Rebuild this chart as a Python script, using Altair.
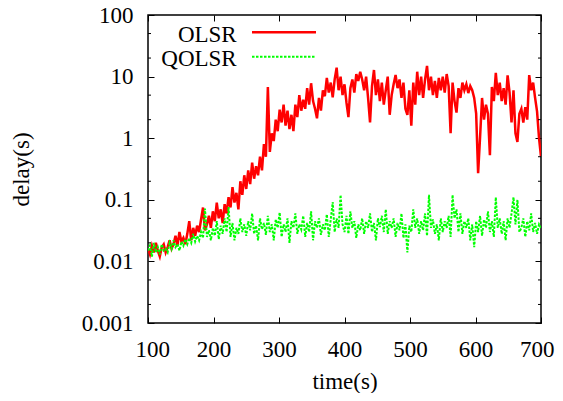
import altair as alt
import pandas as pd

# ---- data ----
time_s = list(range(100, 701, 3))

olsr = [
    0.016, 0.013, 0.018, 0.014, 0.02, 0.015, 0.012, 0.017, 0.019, 0.014,
    0.017, 0.022, 0.016, 0.019, 0.026, 0.018, 0.03, 0.021, 0.024, 0.019,
    0.028, 0.045, 0.022, 0.035, 0.026, 0.038, 0.03, 0.048, 0.075, 0.032,
    0.04, 0.055, 0.035, 0.065, 0.045, 0.09, 0.05, 0.07, 0.042, 0.085,
    0.06, 0.11, 0.075, 0.16, 0.09, 0.13, 0.07, 0.2, 0.12, 0.25,
    0.15, 0.3, 0.18, 0.4, 0.22, 0.35, 0.25, 0.5, 0.3, 0.8,
    0.5, 6.8, 0.6, 1.2, 0.9, 2.0, 1.3, 2.9, 1.8, 3.5,
    1.6, 2.8, 1.4, 2.4, 1.3, 3.5, 2.2, 5.0, 2.8, 4.2,
    3.0, 6.5, 3.5, 7.8, 4.0, 3.0, 2.1, 4.5, 2.8, 6.0,
    4.8, 9.5, 5.5, 8.0, 4.6, 9.0, 14.0, 6.0, 10.0, 5.0,
    7.5, 3.8, 2.2, 6.5, 9.0, 5.5, 11.0, 8.5, 12.0, 9.0,
    6.0, 10.0, 4.5, 1.8, 7.0, 12.8, 5.0, 9.0, 4.0, 8.0,
    3.5, 6.0, 10.0, 2.4, 5.0, 7.5, 10.6, 6.5, 9.0, 4.5,
    8.0, 3.0, 2.4, 6.0, 1.6, 8.0, 3.5, 12.0, 5.0, 10.0,
    4.5, 9.0, 14.9, 6.0, 10.0, 5.0, 8.5, 4.5, 9.5, 6.0,
    10.0, 5.5, 11.0, 7.0, 1.2, 8.0, 4.0, 2.6, 6.5, 4.5,
    8.0, 6.0, 7.5, 5.4, 7.0, 6.0, 4.5, 2.5, 0.27, 1.05,
    4.5, 2.0, 3.5, 2.5, 0.53, 6.8, 4.0, 11.5, 5.0, 8.0,
    4.0, 6.5, 3.5, 10.5, 5.5, 1.8, 6.0, 1.2, 0.87, 2.5,
    3.0, 1.8, 3.2, 2.0, 10.6, 6.0, 8.0, 4.5, 2.7, 1.0,
    0.5,
]

qolsr = [
    0.015, 0.018, 0.012, 0.02, 0.014, 0.017, 0.013, 0.019, 0.015, 0.016,
    0.014, 0.02, 0.016, 0.022, 0.017, 0.019, 0.015, 0.021, 0.018, 0.023,
    0.019, 0.024, 0.02, 0.028, 0.021, 0.026, 0.022, 0.03, 0.024, 0.072,
    0.025, 0.032, 0.022, 0.035, 0.026, 0.045, 0.023, 0.038, 0.028, 0.05,
    0.03, 0.076, 0.025, 0.042, 0.022, 0.035, 0.028, 0.05, 0.03, 0.04,
    0.026, 0.045, 0.032, 0.06, 0.028, 0.038, 0.022, 0.05, 0.033, 0.042,
    0.027, 0.055, 0.03, 0.04, 0.022, 0.048, 0.035, 0.062, 0.025, 0.04,
    0.03, 0.05, 0.02, 0.045, 0.035, 0.06, 0.028, 0.04, 0.033, 0.055,
    0.025, 0.042, 0.03, 0.065, 0.022, 0.045, 0.035, 0.05, 0.027, 0.04,
    0.032, 0.058, 0.025, 0.048, 0.092, 0.03, 0.05, 0.035, 0.12, 0.04,
    0.03, 0.055, 0.028, 0.065, 0.035, 0.045, 0.024, 0.04, 0.032, 0.05,
    0.028, 0.045, 0.035, 0.06, 0.03, 0.042, 0.022, 0.05, 0.036, 0.055,
    0.03, 0.07, 0.028, 0.045, 0.035, 0.05, 0.025, 0.042, 0.032, 0.06,
    0.024, 0.04, 0.014, 0.038, 0.03, 0.07, 0.035, 0.05, 0.028, 0.045,
    0.032, 0.06, 0.026, 0.12, 0.035, 0.048, 0.028, 0.04, 0.022, 0.05,
    0.03, 0.045, 0.035, 0.055, 0.025, 0.12, 0.05, 0.07, 0.03, 0.06,
    0.028, 0.045, 0.035, 0.05, 0.022, 0.04, 0.017, 0.045, 0.03, 0.055,
    0.026, 0.048, 0.035, 0.065, 0.03, 0.045, 0.025, 0.11, 0.035, 0.05,
    0.028, 0.045, 0.022, 0.05, 0.035, 0.06, 0.11, 0.04, 0.1, 0.03,
    0.035, 0.05, 0.025, 0.045, 0.032, 0.06, 0.03, 0.042, 0.028, 0.04,
    0.035,
]

x_ticks = [100, 200, 300, 400, 500, 600, 700]
y_major = [0.001, 0.01, 0.1, 1, 10, 100]
y_minor = [0.002, 0.005, 0.02, 0.05, 0.2, 0.5, 2, 5, 20, 50]
series_names = ["OLSR", "QOLSR"]
colors = ["#ff0000", "#00ff00"]

# ---- styling ----
W, H = 393, 308
FONT = "Liberation Serif"
FS = 23

df_r = pd.DataFrame({"t": time_s, "v": olsr})
df_g = pd.DataFrame({"t": time_s, "v": qolsr})
df_minor = pd.DataFrame({"m": y_minor})

xs = alt.Scale(domain=[100, 700], nice=False, zero=False)
ys = alt.Scale(type="log", domain=[0.001, 100], nice=False)

common = dict(domain=False, grid=False, tickColor="black", tickWidth=1,
              labelFont=FONT, labelFontSize=FS, labelColor="black",
              labelOverlap=False,
              titleFont=FONT, titleFontSize=FS, titleFontWeight="normal",
              titleColor="black")

x_axis = alt.Axis(orient="bottom", values=x_ticks, title="time(s)", offset=-6,
                  tickSize=6, labelPadding=15, labelFlush=True, labelFlushOffset=13,
                  titleX=W / 2, titleY=71,
                  titleBaseline="alphabetic", titleAlign="center", **common)
y_axis = alt.Axis(orient="left", values=y_major, labelExpr="'' + datum.value",
                  title="delay(s)", offset=-6, tickSize=6, labelPadding=15,
                  labelFlush=False,
                  titleAngle=270, titleX=-126, titleY=H / 2,
                  titleBaseline="alphabetic", titleAlign="center", **common)

red = alt.Chart(df_r).mark_line(color=colors[0], strokeWidth=2.5, clip=True).encode(
    x=alt.X("t:Q", scale=xs, axis=x_axis),
    y=alt.Y("v:Q", scale=ys, axis=y_axis),
)

green = alt.Chart(df_g).mark_line(color=colors[1], strokeWidth=2,
                                  strokeDash=[2.5, 1.5], clip=True).encode(
    x=alt.X("t:Q", scale=xs, axis=None),
    y=alt.Y("v:Q", scale=ys, axis=None),
)

mirror = alt.Chart(df_r).mark_line(opacity=0).encode(
    x=alt.X("t:Q", scale=xs, axis=alt.Axis(orient="top", values=x_ticks, labels=False,
                                           title="", offset=-6, tickSize=6,
                                           domain=False, grid=False, tickColor="black")),
    y=alt.Y("v:Q", scale=ys, axis=alt.Axis(orient="right", values=y_major, labels=False,
                                           title="", offset=-6, tickSize=6,
                                           domain=False, grid=False, tickColor="black")),
)

minor_l = alt.Chart(df_minor).mark_rule(color="black", strokeWidth=1).encode(
    y=alt.Y("m:Q", scale=ys, axis=None), x=alt.value(0), x2=alt.value(3))
minor_r = alt.Chart(df_minor).mark_rule(color="black", strokeWidth=1).encode(
    y=alt.Y("m:Q", scale=ys, axis=None), x=alt.value(W - 3), x2=alt.value(W))

# ---- key (gnuplot style: label, then line sample) ----
key_layers = []
key_text_y = [26.5, 51]
key_line_y = [17.3, 41.7]
for i, name in enumerate(series_names):
    d = pd.DataFrame({"name": [name]})
    key_layers.append(
        alt.Chart(d).mark_text(font=FONT, fontSize=FS, align="right",
                               baseline="alphabetic", color="black").encode(
            text="name:N", x=alt.value(88.7), y=alt.value(key_text_y[i])))
    rule_kw = dict(color=colors[i], strokeWidth=2.5 if i == 0 else 2)
    if i == 1:
        rule_kw["strokeDash"] = [2.5, 1.5]
    key_layers.append(
        alt.Chart(d).mark_rule(**rule_kw).encode(
            x=alt.value(104), x2=alt.value(168), y=alt.value(key_line_y[i])))

chart = alt.layer(red, green, mirror, minor_l, minor_r, *key_layers).properties(
    width=W, height=H,
    padding={"left": 140, "top": 7, "right": 14, "bottom": 70},
    autosize="none",
).configure_view(stroke="black", strokeWidth=1.5)

chart.save("out.html", embed_options={"renderer": "svg", "actions": False})
